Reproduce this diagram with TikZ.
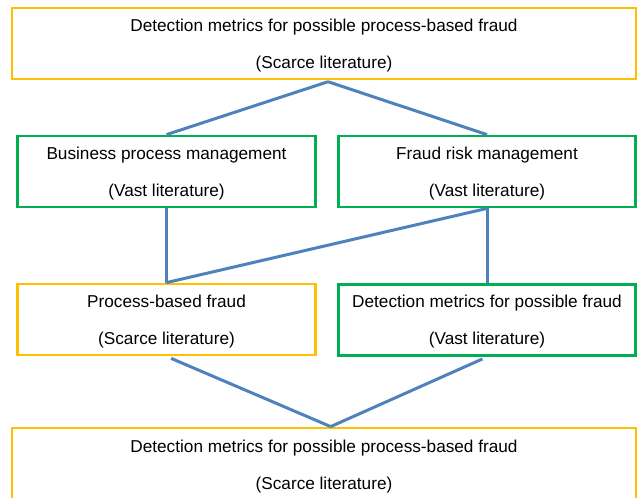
\documentclass[tikz,border=0pt]{standalone}
\usepackage{fontspec}
\setmainfont{Liberation Sans}
\usetikzlibrary{positioning}
\definecolor{scarcecolor}{RGB}{255, 192, 0}
\definecolor{vastcolor}{RGB}{0, 176, 80}
\definecolor{linkcolor}{RGB}{79, 129, 189}

\begin{document}
\begin{tikzpicture}[
        x=0.75pt, y=-0.75pt,
        box/.style={rectangle, draw, line width=2.1pt, align=center, minimum height=53.25pt,
            text depth=-1.2pt, font=\fontsize{12.9}{27.75}\selectfont},
        wide/.style={box, minimum width=468pt},
        small/.style={box, minimum width=223pt},
        scarce/.style={draw=scarcecolor},
        vast/.style={draw=vastcolor},
        link/.style={draw=linkcolor, line width=2.25pt}
    ]
        \clip (0,0) rectangle (641,498);

        % Goal
        \node[wide, scarce] (top) at (324,43.5) {Detection metrics for possible process-based fraud\\(Scarce literature)};

        % Established fields
        \node[small, vast] (bpm) at (166.5,171.5) {Business process management\\(Vast literature)};
        \node[small, vast] (frm) at (487,171.5) {Fraud risk management\\(Vast literature)};

        % Derived fields
        \node[small, scarce] (pbf) at (166.5,319.5) {Process-based fraud\\(Scarce literature)};
        \node[small, vast] (dm) at (487,320) {Detection metrics for possible fraud\\(Vast literature)};

        % Result
        \node[wide, scarce, minimum height=55.5pt] (bottom) at (324,465) {Detection metrics for possible process-based fraud\\(Scarce literature)};

        % Connections
        \coordinate (apex) at ([xshift=3pt,yshift=-1pt]top.south);
        \coordinate (join) at ([xshift=5pt]bottom.north);
        \draw[link] (apex) -- (bpm.north);
        \draw[link] (apex) -- (frm.north);
        \draw[link] (bpm.south) -- (pbf.north);
        \draw[link] (frm.south) -- (pbf.north);
        \draw[link] (frm.south) -- (dm.north);
        \draw[link, shorten <=3.75pt] (pbf.south) -- (join);
        \draw[link, shorten <=3.75pt] (dm.south) -- (join);

    \end{tikzpicture}
\end{document}
